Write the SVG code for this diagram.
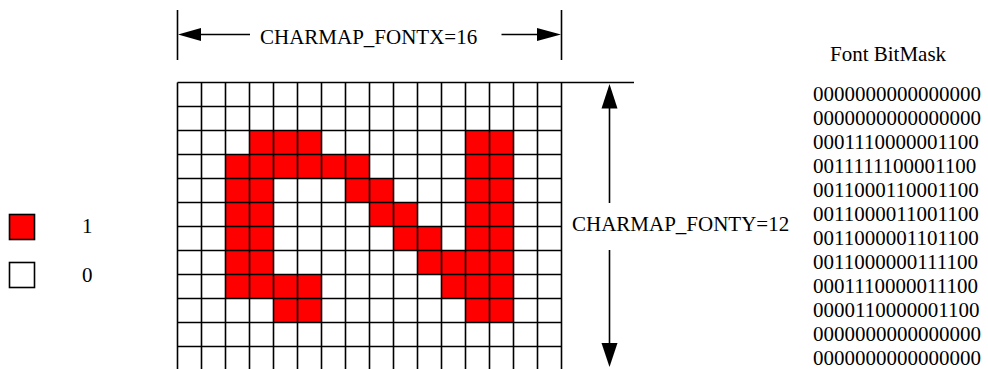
<svg xmlns="http://www.w3.org/2000/svg" width="988" height="369" viewBox="0 0 988 369">
<style>
text{font-family:"Liberation Serif","Times New Roman",serif;font-size:21px;fill:#000}
.ln{stroke:#000;stroke-width:1.6;fill:none}
.red{fill:#ff0000}
.box{stroke:#000;stroke-width:1.6}
</style>
<rect width="988" height="369" fill="#fff"/>
<g id="grid">
<g class="red">
<rect x="249.5" y="130.5" width="72" height="24"/>
<rect x="465.5" y="130.5" width="48" height="192"/>
<rect x="225.5" y="154.5" width="144" height="24"/>
<rect x="225.5" y="178.5" width="48" height="120"/>
<rect x="345.5" y="178.5" width="48" height="24"/>
<rect x="369.5" y="202.5" width="48" height="24"/>
<rect x="393.5" y="226.5" width="48" height="24"/>
<rect x="417.5" y="250.5" width="48" height="24"/>
<rect x="249.5" y="274.5" width="72" height="24"/>
<rect x="441.5" y="274.5" width="24" height="24"/>
<rect x="273.5" y="298.5" width="48" height="24"/>
</g>
<path class="ln" d="M177.5 82.5V369M201.5 82.5V369M225.5 82.5V369M249.5 82.5V369M273.5 82.5V369M297.5 82.5V369M321.5 82.5V369M345.5 82.5V369M369.5 82.5V369M393.5 82.5V369M417.5 82.5V369M441.5 82.5V369M465.5 82.5V369M489.5 82.5V369M513.5 82.5V369M537.5 82.5V369M561.5 82.5V369M177.5 82.5H634M177.5 106.5H561.5M177.5 130.5H561.5M177.5 154.5H561.5M177.5 178.5H561.5M177.5 202.5H561.5M177.5 226.5H561.5M177.5 250.5H561.5M177.5 274.5H561.5M177.5 298.5H561.5M177.5 322.5H561.5M177.5 346.5H561.5"/>
</g>
<g id="connectors">
<path class="ln" d="M177.5 10V60M561.5 10V60M200 34.5H250M501.5 34.5H537M609.5 108V203M609.5 250V344"/>
<polygon points="178,34.5 201,28 201,41"/>
<polygon points="561,34.5 537,28 537,41"/>
<polygon points="609.5,84 601.5,108.5 617.5,108.5"/>
<polygon points="609.5,367 601.5,343 617.5,343"/>
</g>
<g id="label-fontx"><text x="260" y="44">CHARMAP_FONTX=16</text></g>
<g id="label-fonty"><text x="572" y="231">CHARMAP_FONTY=12</text></g>
<g id="bitmask">
<text x="830" y="61">Font BitMask</text>
<text x="813" y="101">0000000000000000</text>
<text x="813" y="125">0000000000000000</text>
<text x="813" y="149">0001110000001100</text>
<text x="813" y="173">0011111100001100</text>
<text x="813" y="197">0011000110001100</text>
<text x="813" y="221">0011000011001100</text>
<text x="813" y="245">0011000001101100</text>
<text x="813" y="269">0011000000111100</text>
<text x="813" y="293">0001110000011100</text>
<text x="813" y="317">0000110000001100</text>
<text x="813" y="341">0000000000000000</text>
<text x="813" y="365">0000000000000000</text>
</g>
<g id="legend-1">
<rect class="box red" x="9.5" y="214.5" width="25" height="25"/>
<text x="82" y="233">1</text>
</g>
<g id="legend-0">
<rect class="box" fill="#fff" x="9.5" y="262.5" width="25" height="25"/>
<text x="82" y="282">0</text>
</g>
</svg>
